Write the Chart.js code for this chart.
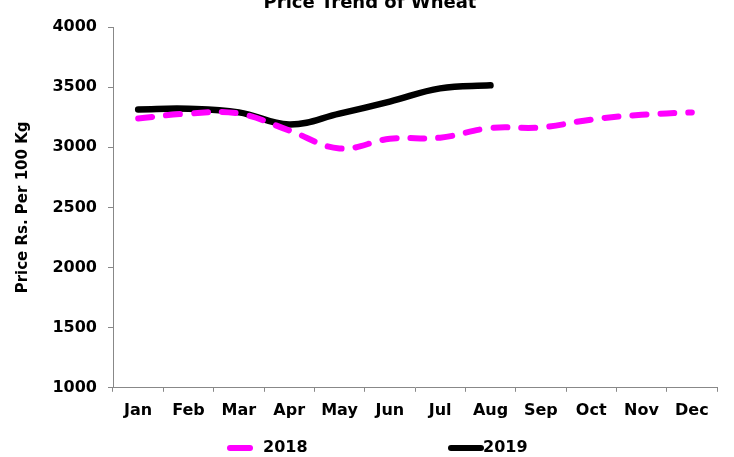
<!DOCTYPE html>
<html lang="en">
<head>
    <meta charset="UTF-8">
    <title>Price Trend of Wheat</title>
    <script src="https://cdn.jsdelivr.net/npm/chart.js"></script>
    <style>
        html, body {
            margin: 0;
            padding: 0;
            background: #fff;
        }
        #chartContainer {
            width: 734px;
            height: 457px;
        }
    </style>
</head>
<body>
    <div id="chartContainer">
        <canvas id="wheatChart"></canvas>
    </div>

    <script>
        const months = ['Jan', 'Feb', 'Mar', 'Apr', 'May', 'Jun', 'Jul', 'Aug', 'Sep', 'Oct', 'Nov', 'Dec'];
        const price2018 = [3240, 3280, 3280, 3140, 2990, 3070, 3080, 3160, 3165, 3230, 3270, 3290];
        const price2019 = [3315, 3320, 3290, 3190, 3280, 3380, 3490, 3515];
        const yTicks = [1000, 1500, 2000, 2500, 3000, 3500, 4000];

        const FONT = "'DejaVu Sans', Verdana, sans-serif";

        // title sits partly above the canvas in the original, so draw it by hand
        const titlePlugin = {
            id: 'clippedTitle',
            afterDraw(chart) {
                const ctx = chart.ctx;
                ctx.save();
                ctx.font = 'bold 18px ' + FONT;
                ctx.fillStyle = '#000';
                ctx.textAlign = 'center';
                ctx.textBaseline = 'alphabetic';
                ctx.fillText('Price Trend of Wheat', 370, 8);
                ctx.restore();
            }
        };

        // legend with the wide gap between the two entries
        const legendPlugin = {
            id: 'spacedLegend',
            afterDraw(chart) {
                const ctx = chart.ctx;
                const items = [
                    { ds: chart.data.datasets[0], x1: 230, x2: 250, tx: 263 },
                    { ds: chart.data.datasets[1], x1: 451, x2: 481, tx: 483 }
                ];
                const y = 448;
                ctx.save();
                ctx.font = 'bold 16px ' + FONT;
                ctx.textBaseline = 'middle';
                ctx.textAlign = 'left';
                items.forEach(it => {
                    ctx.strokeStyle = it.ds.borderColor;
                    ctx.lineWidth = 6;
                    ctx.lineCap = 'round';
                    ctx.beginPath();
                    ctx.moveTo(it.x1, y);
                    ctx.lineTo(it.x2, y);
                    ctx.stroke();
                    ctx.fillStyle = '#000';
                    ctx.fillText(it.ds.label, it.tx, y);
                });
                ctx.restore();
            }
        };

        const ctx = document.getElementById('wheatChart').getContext('2d');
        new Chart(ctx, {
            type: 'line',
            data: {
                labels: months,
                datasets: [{
                    label: '2018',
                    data: price2018,
                    borderColor: '#ff00ff',
                    backgroundColor: '#ff00ff',
                    borderWidth: 6,
                    borderDash: [14, 14],
                    borderCapStyle: 'round',
                    tension: 0.4,
                    pointRadius: 0,
                    fill: false
                }, {
                    label: '2019',
                    data: price2019,
                    borderColor: '#000000',
                    backgroundColor: '#000000',
                    borderWidth: 6.5,
                    borderCapStyle: 'round',
                    tension: 0.4,
                    pointRadius: 0,
                    fill: false
                }]
            },
            options: {
                responsive: true,
                maintainAspectRatio: false,
                animation: false,
                layout: {
                    padding: { top: 27, right: 17, bottom: 28, left: 0 }
                },
                plugins: {
                    legend: { display: false },
                    title: { display: false },
                    tooltip: { enabled: false }
                },
                scales: {
                    x: {
                        offset: true,
                        grid: {
                            offset: true,
                            drawOnChartArea: false,
                            drawTicks: true,
                            tickLength: 4,
                            color: '#888'
                        },
                        border: { color: '#888', width: 1 },
                        ticks: {
                            color: '#000',
                            padding: 9,
                            maxRotation: 0,
                            font: { family: FONT, size: 16, weight: 'bold' }
                        }
                    },
                    y: {
                        min: 1000,
                        max: 4000,
                        afterBuildTicks(scale) {
                            scale.ticks = yTicks.map(v => ({ value: v }));
                        },
                        afterFit(scale) {
                            scale.width = 113;
                        },
                        grid: {
                            drawOnChartArea: false,
                            drawTicks: true,
                            tickLength: 5,
                            color: '#888'
                        },
                        border: { color: '#888', width: 1 },
                        ticks: {
                            color: '#000',
                            padding: 11,
                            callback: v => String(v),
                            font: { family: FONT, size: 16, weight: 'bold' }
                        },
                        title: {
                            display: true,
                            text: 'Price Rs. Per 100 Kg',
                            color: '#000',
                            padding: { top: 14, bottom: 0 },
                            font: { family: FONT, size: 15, weight: 'bold' }
                        }
                    }
                }
            },
            plugins: [titlePlugin, legendPlugin]
        });
    </script>
</body>
</html>
